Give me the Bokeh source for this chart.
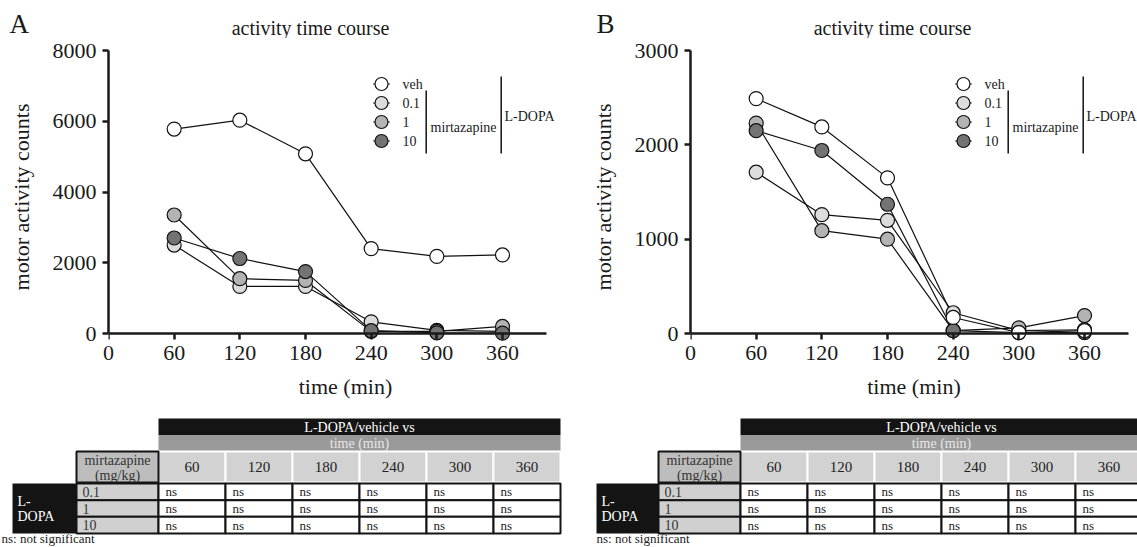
from bokeh.plotting import figure
from bokeh.models import Range1d, FixedTicker, Label, ColumnDataSource, LinearAxis
from bokeh.layouts import row, column
from bokeh.embed import file_html
from bokeh.resources import INLINE
from bokeh.core.properties import value

# ---------------- data ----------------
times = [60, 120, 180, 240, 300, 360]
groups = ["veh", "0.1", "1", "10"]
fills = ["#ffffff", "#dcdcdc", "#b3b3b3", "#737373"]

a_veh = [5780, 6030, 5080, 2400, 2180, 2220]
a_d01 = [2500, 1330, 1330, 330, 90, 60]
a_d1 = [3350, 1550, 1500, 60, 60, 200]
a_d10 = [2700, 2120, 1750, 80, 20, 10]

b_veh = [2490, 2190, 1650, 170, 10, 30]
b_d01 = [1710, 1260, 1200, 220, 30, 40]
b_d1 = [2230, 1090, 1000, 30, 60, 190]
b_d10 = [2150, 1940, 1370, 30, 10, 10]

x_ticks = [0, 60, 120, 180, 240, 300, 360]
a_yticks = [0, 2000, 4000, 6000, 8000]
b_yticks = [0, 1000, 2000, 3000]

doses = ["0.1", "1", "10"]
table_cols = ["60", "120", "180", "240", "300", "360"]
a_results = [["ns", "ns", "ns", "ns", "ns", "ns"],
             ["ns", "ns", "ns", "ns", "ns", "ns"],
             ["ns", "ns", "ns", "ns", "ns", "ns"]]
b_results = [["ns", "ns", "ns", "ns", "ns", "ns"],
             ["ns", "ns", "ns", "ns", "ns", "ns"],
             ["ns", "ns", "ns", "ns", "ns", "ns"]]

FONT = "Liberation Serif"
INK = "#1a1a1a"

HEAD_H = 38
PLOT_H = 377
TAB_H = 132
TOP = 12
LEFT = 108
ZERO_PX = 283
PAD_PX = 10
FRAME_H = ZERO_PX + PAD_PX
BOT = PLOT_H - TOP - FRAME_H
PPM = 394 / 360          # pixels per minute on the x axis
XEND = 400               # end of the drawn x axis line


def style_axis(ax):
    ax.axis_line_width = 2.5
    ax.axis_line_color = INK
    ax.major_tick_line_width = 2.5
    ax.major_tick_line_color = INK
    ax.major_tick_out = 6
    ax.major_tick_in = 0
    ax.minor_tick_line_color = None
    ax.major_label_text_font = FONT
    ax.major_label_text_font_size = "22px"
    ax.major_label_text_color = INK
    ax.axis_label_text_font = FONT
    ax.axis_label_text_font_size = "22px"
    ax.axis_label_text_font_style = "normal"
    ax.axis_label_text_color = INK


def make_header(letter, letter_x, width):
    h = figure(width=width, height=HEAD_H, x_range=Range1d(0, width),
               y_range=Range1d(HEAD_H, 0), min_border=0, min_border_left=0,
               min_border_right=0, min_border_top=0, min_border_bottom=0,
               x_axis_location=None, y_axis_location=None,
               output_backend="svg", toolbar_location=None)
    h.frame_align = False
    h.grid.visible = False
    h.outline_line_color = None
    h.text(x=[letter_x], y=[23], text=[letter], text_font=value(FONT),
           text_font_size="27px", text_color=INK, text_baseline="middle")
    h.text(x=[310], y=[27], text=["activity time course"], text_font=value(FONT),
           text_font_size="20px", text_color=INK, text_align="center",
           text_baseline="middle")
    return h


def make_plot(series, ymax, yticks, width):
    frame_w = width - LEFT
    xmax = frame_w / PPM
    ymin = -ymax * PAD_PX / ZERO_PX
    p = figure(width=width, height=PLOT_H, x_range=Range1d(0, xmax),
               y_range=Range1d(ymin, ymax),
               min_border_left=LEFT, min_border_right=0,
               min_border_top=TOP, min_border_bottom=BOT,
               output_backend="svg", toolbar_location=None)
    p.frame_align = False
    p.grid.visible = False
    p.outline_line_color = None
    p.background_fill_color = "white"

    for vals in series:
        p.line(times, vals, line_color="#111111", line_width=1.2)
    for i in [1, 2, 3, 0]:
        p.scatter(times, series[i], size=14, marker="circle",
                  fill_color=fills[i], line_color="#111111", line_width=1.2)

    # x axis: labels at the frame bottom
    xa = p.xaxis[0]
    style_axis(xa)
    xa.ticker = FixedTicker(ticks=x_ticks)
    xa.bounds = (0, XEND)
    xa.axis_line_color = None
    xa.major_tick_line_color = None
    xa.major_tick_out = 0
    xa.major_label_standoff = 2
    xa.axis_label = "time (min)"
    xa.axis_label_standoff = 11
    # the drawn axis line at y = 0
    x0a = LinearAxis(fixed_location=0, ticker=FixedTicker(ticks=x_ticks),
                     bounds=(0, XEND))
    style_axis(x0a)
    x0a.major_label_text_font_size = "1px"
    x0a.major_label_text_alpha = 0
    x0a.major_label_standoff = 0
    p.add_layout(x0a, "below")

    ya = p.yaxis[0]
    style_axis(ya)
    ya.ticker = FixedTicker(ticks=yticks)
    ya.bounds = (0, ymax)
    ya.axis_label = "motor activity counts"
    ya.major_label_standoff = 6
    ya.axis_label_standoff = 16

    # pixel helpers (reference pixel, relative to the plot's top -> data / frame units)
    def dx(px):
        return (px - LEFT) / PPM

    def dy(py):
        return ymax - (py - 8) / ZERO_PX * ymax

    def sx(px):
        return px - LEFT

    def sy(py):
        return 8 + FRAME_H - py

    # legend
    ly = [41.5 + 19 * i for i in range(len(groups))]
    src = ColumnDataSource(dict(x0=[dx(372.7)] * 4, x1=[dx(389.3)] * 4,
                                xm=[dx(381)] * 4, y=[dy(v) for v in ly], fill=fills))
    p.segment(x0="x0", x1="x1", y0="y", y1="y", source=src,
              line_color="#111111", line_width=1.2)
    p.scatter(x="xm", y="y", size=13, fill_color="fill", line_color="#111111",
              line_width=1.2, source=src)
    for g, v in zip(groups, ly):
        p.add_layout(Label(x=sx(402), y=sy(v), x_units="screen", y_units="screen",
                           text=g, text_font=FONT, text_font_size="14px",
                           text_color=INK, text_baseline="middle"))
    p.segment(x0=[dx(425.7), dx(500.7)], x1=[dx(425.7), dx(500.7)],
              y0=[dy(48), dy(34)], y1=[dy(111), dy(111)],
              line_color="#111111", line_width=1.5)
    p.add_layout(Label(x=sx(430), y=sy(85.3), x_units="screen", y_units="screen",
                       text="mirtazapine", text_font=FONT, text_font_size="14px",
                       text_color=INK, text_baseline="middle"))
    p.add_layout(Label(x=sx(504), y=sy(74), x_units="screen", y_units="screen",
                       text="L-DOPA", text_font=FONT, text_font_size="14px",
                       text_color=INK, text_baseline="middle"))
    return p


COL0 = 158
COL_W = 67
DOSE_X0 = 76
H0 = 3          # top of black header row
ROW0 = 68
ROW_H = 16.67


def make_table(width, results, ns_x, ld_x0):
    t = figure(width=width, height=TAB_H, x_range=Range1d(0, width),
               y_range=Range1d(TAB_H, 0), min_border=0,
               min_border_left=0, min_border_right=0, min_border_top=0,
               min_border_bottom=0,
               x_axis_location=None, y_axis_location=None,
               output_backend="svg", toolbar_location=None)
    t.frame_align = False
    t.grid.visible = False
    t.outline_line_color = None
    ncol = len(table_cols)
    right = COL0 + COL_W * ncol
    t.quad(left=[COL0], right=[right], top=[H0], bottom=[H0 + 16.5],
           fill_color="#141414", line_color=None)
    t.quad(left=[COL0], right=[right], top=[H0 + 16.5], bottom=[H0 + 33],
           fill_color="#9a9a9a", line_color=None)
    cx = COL0 + COL_W * ncol / 2
    t.text(x=[cx], y=[H0 + 8.5], text=["L-DOPA/vehicle vs"], text_font=value(FONT),
           text_font_size="14px", text_color="white", text_align="center",
           text_baseline="middle")
    t.text(x=[cx], y=[H0 + 25], text=["time (min)"], text_font=value(FONT),
           text_font_size="14px", text_color="#e6e6e6", text_align="center",
           text_baseline="middle")
    lefts = [COL0 + COL_W * i for i in range(ncol)]
    hy0, hy1 = H0 + 33, ROW0 - 1
    t.quad(left=lefts, right=[l + COL_W for l in lefts], top=[hy0] * ncol,
           bottom=[hy1] * ncol, fill_color="#d2d2d2", line_color="white",
           line_width=2)
    t.text(x=[l + COL_W / 2 for l in lefts], y=[(hy0 + hy1) / 2] * ncol,
           text=table_cols, text_font=value(FONT), text_font_size="15px",
           text_color="#222222", text_align="center", text_baseline="middle")
    t.quad(left=[DOSE_X0], right=[COL0], top=[hy0], bottom=[hy1],
           fill_color="#bdbdbd", line_color="#141414", line_width=2)
    t.text(x=[(DOSE_X0 + COL0) / 2] * 2, y=[hy0 + 9, hy0 + 23.5],
           text=["mirtazapine", "(mg/kg)"], text_font=value(FONT),
           text_font_size="14px", text_color="#333333", text_align="center",
           text_baseline="middle")
    nrow = len(doses)
    tops = [ROW0 + ROW_H * r for r in range(nrow)]
    t.quad(left=[ld_x0], right=[DOSE_X0], top=[ROW0], bottom=[ROW0 + ROW_H * nrow],
           fill_color="#141414", line_color=None)
    t.text(x=[ld_x0 + 5] * 2, y=[ROW0 + 18, ROW0 + 33], text=["L-", "DOPA"],
           text_font=value(FONT), text_font_size="14px", text_color="white",
           text_baseline="middle")
    t.quad(left=[DOSE_X0] * nrow, right=[COL0] * nrow, top=tops,
           bottom=[tp + ROW_H for tp in tops], fill_color="#d0d0d0",
           line_color="#141414", line_width=2)
    t.text(x=[DOSE_X0 + 6] * nrow, y=[tp + ROW_H / 2 for tp in tops], text=doses,
           text_font=value(FONT), text_font_size="14px", text_color="#333333",
           text_baseline="middle")
    cl, cr, ct, cb, tx, ty, tt = [], [], [], [], [], [], []
    for r in range(nrow):
        for c in range(ncol):
            cl.append(lefts[c]); cr.append(lefts[c] + COL_W)
            ct.append(tops[r]); cb.append(tops[r] + ROW_H)
            tx.append(lefts[c] + 7); ty.append(tops[r] + ROW_H / 2)
            tt.append(results[r][c])
    t.quad(left=cl, right=cr, top=ct, bottom=cb, fill_color="white",
           line_color="#141414", line_width=2)
    t.text(x=tx, y=ty, text=tt, text_font=value(FONT), text_font_size="13px",
           text_color="#222222", text_baseline="middle")
    t.text(x=[ns_x], y=[123], text=["ns: not significant"], text_font=value(FONT),
           text_font_size="13px", text_color="#222222", text_baseline="middle")
    return t


W_A = 582
W_B = 555
hA = make_header("A", 9, W_A)
hB = make_header("B", 14, W_B)
pA = make_plot([a_veh, a_d01, a_d1, a_d10], 8000, a_yticks, W_A)
pB = make_plot([b_veh, b_d01, b_d1, b_d10], 3000, b_yticks, W_B)
tA = make_table(W_A, a_results, 1, 12)
tB = make_table(W_B, b_results, 14, 14)

layout = row(column(hA, pA, tA), column(hB, pB, tB))
open("out.html", "w").write(file_html(layout, INLINE))
